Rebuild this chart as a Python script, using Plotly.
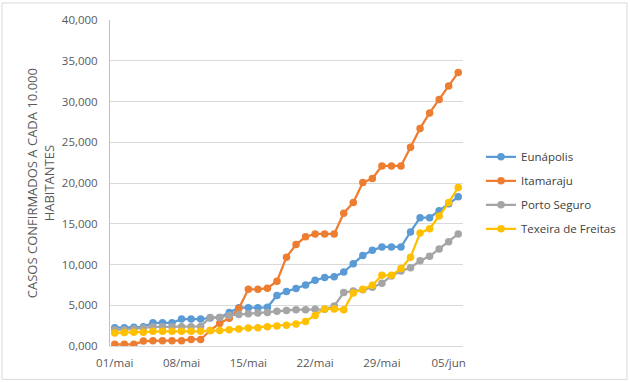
import pandas as pd
import plotly.graph_objects as go

dates = pd.date_range("2020-05-01", "2020-06-06", freq="D")

eunapolis = [2.25, 2.25, 2.3, 2.35, 2.85, 2.85, 2.85, 3.3, 3.3, 3.3, 3.45, 3.5, 4.1,
             4.7, 4.7, 4.7, 4.75, 6.2, 6.7, 7.05, 7.5, 8.06, 8.4, 8.5, 9.08, 10.1,
             11.1, 11.74, 12.15, 12.15, 12.15, 14.0, 15.75, 15.75, 16.6, 17.45, 18.3]
itamaraju = [0.2, 0.2, 0.2, 0.6, 0.65, 0.65, 0.65, 0.65, 0.8, 0.8, 1.9, 2.8, 3.4,
             4.6, 6.95, 6.95, 7.1, 7.95, 10.9, 12.45, 13.4, 13.75, 13.75, 13.75, 16.3,
             17.6, 20.06, 20.55, 22.1, 22.1, 22.1, 24.4, 26.7, 28.6, 30.26, 31.9, 33.57]
porto_seguro = [2.0, 2.0, 2.1, 2.2, 2.35, 2.35, 2.35, 2.35, 2.35, 2.4, 3.5, 3.5, 3.75,
                3.85, 3.95, 4.05, 4.1, 4.25, 4.35, 4.45, 4.45, 4.5, 4.5, 4.9, 6.55,
                6.75, 6.9, 7.2, 7.7, 8.6, 9.2, 9.6, 10.45, 11.0, 11.9, 12.8, 13.75]
texeira = [1.6, 1.65, 1.7, 1.7, 1.8, 1.8, 1.8, 1.8, 1.8, 1.8, 1.9, 1.9, 2.0, 2.1,
           2.2, 2.25, 2.35, 2.45, 2.55, 2.7, 3.0, 3.75, 4.55, 4.55, 4.45, 6.5, 6.95,
           7.44, 8.67, 8.67, 9.5, 10.9, 13.85, 14.4, 15.95, 17.6, 19.45]

series_names = ["Eunápolis", "Itamaraju", "Porto Seguro", "Texeira de Freitas"]
series_values = [eunapolis, itamaraju, porto_seguro, texeira]
colors = ["#5B9BD5", "#ED7D31", "#A5A5A5", "#FFC000"]

x_tick_dates = ["2020-05-01", "2020-05-08", "2020-05-15", "2020-05-22", "2020-05-29", "2020-06-05"]
x_tick_labels = ["01/mai", "08/mai", "15/mai", "22/mai", "29/mai", "05/jun"]
y_tick_vals = [0, 5, 10, 15, 20, 25, 30, 35, 40]
y_title = "CASOS CONFIRMADOS A CADA 10.000<br>HABITANTES"

fig = go.Figure()
for name, vals, c in zip(series_names, series_values, colors):
    fig.add_trace(go.Scatter(
        x=dates, y=vals, name=name, mode="lines+markers",
        line=dict(color=c, width=2.25),
        marker=dict(color=c, size=7.5),
        legendgroup=name,
    ))

font_fam = "Open Sans, Noto Sans, sans-serif"
PW = 353.0
PH = 325.6
fig.update_layout(
    width=630, height=382,
    margin=dict(l=110, r=167, t=20, b=36.4, autoexpand=False),
    paper_bgcolor="white", plot_bgcolor="white",
    separators=",.",
    font=dict(family=font_fam, size=11, color="#595959"),
    showlegend=True,
    legend=dict(x=1.051, xanchor="left", y=0.47, yanchor="middle",
                font=dict(size=11.5, color="#404040"),
                tracegroupgap=5, itemwidth=30, bgcolor="rgba(0,0,0,0)"),
    xaxis=dict(
        range=[pd.Timestamp("2020-04-30 12:00"), pd.Timestamp("2020-06-06 12:00")],
        tickvals=x_tick_dates, ticktext=x_tick_labels,
        showgrid=False, showline=True, linecolor="#d9d9d9", linewidth=1,
        ticks="", tickfont=dict(size=11.5, color="#595959"),
        zeroline=False, automargin=False, ticklabelstandoff=6,
    ),
    yaxis=dict(
        range=[0, 40], tickvals=y_tick_vals, tickformat=".3f",
        showgrid=True, gridcolor="#d9d9d9", gridwidth=1,
        showline=True, linecolor="#bfbfbf", linewidth=1,
        ticks="", tickfont=dict(size=11.5, color="#595959"),
        zeroline=False, automargin=False, ticklabelstandoff=9,
    ),
    annotations=[dict(text=y_title, textangle=-90, xref="paper", yref="paper",
                      x=(40 - 110) / PW, y=(345.6 - 183) / PH,
                      xanchor="center", yanchor="middle", showarrow=False,
                      font=dict(size=13, color="#595959"))],
    shapes=[dict(type="rect", xref="paper", yref="paper",
                 x0=(2 - 110) / PW, x1=(627 - 110) / PW,
                 y0=(345.6 - 379) / PH, y1=(345.6 - 3) / PH,
                 line=dict(color="#d9d9d9", width=1), fillcolor="rgba(0,0,0,0)",
                 layer="below")],
)

fig.write_html("out.html", config={"displayModeBar": False},
               post_script="document.body.style.margin='0px';document.body.style.padding='0px';")
